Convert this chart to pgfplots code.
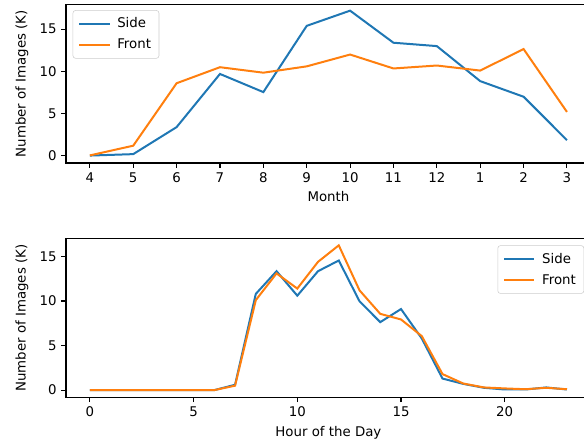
\documentclass[border=0pt]{standalone}
\usepackage{fontspec}
\setmainfont{DejaVu Sans}
\usepackage{pgfplots}
\pgfplotsset{compat=1.18}
\definecolor{mplblue}{HTML}{1F77B4}
\definecolor{mplorange}{HTML}{FF7F0E}
\pgfplotsset{
  mpl/.style={
    scale only axis, width=393.6pt, height=119pt,
    anchor=south west,
    axis line style={black, line width=0.8pt},
    tick style={black, line width=0.8pt},
    major tick length=3.5pt,
    tick align=outside,
    xtick pos=bottom, ytick pos=left,
    /pgf/number format/assume math mode=true,
    ticklabel style={font=\fontsize{10}{12}\selectfont},
    label style={font=\fontsize{10}{12}\selectfont},
    ylabel={Number of Images (K)},
    ytick={0,5,10,15},
    legend cell align=left,
    legend style={font=\fontsize{10}{12}\selectfont, draw=black!20, rounded corners=2pt, inner xsep=4pt, inner ysep=3.5pt, row sep=3pt, column sep=3pt},
    legend image code/.code={\draw[#1, line width=1.5pt] (0cm,0cm) -- (0.8cm,0cm);},
    every axis plot/.append style={line width=1.5pt, mark=none},
    ylabel style={yshift=1.5pt},
  }
}
\begin{document}
\begin{tikzpicture}
\path[use as bounding box] (0,0) rectangle (438pt,331.5pt);
\clip (0,0) rectangle (438pt,331.5pt);
\begin{axis}[mpl, at={(49.5pt,209.25pt)},
  xmin=-0.55, xmax=11.55, ymin=-0.85, ymax=17.95,
  xtick={0,...,11}, xticklabels={4,5,6,7,8,9,10,11,12,1,2,3},
  xlabel={Month},
  legend style={at={(0.0127,0.963)}, anchor=north west},
]
\addplot[mplblue] coordinates {(0,0.03) (1,0.2) (2,3.4) (3,9.7) (4,7.55) (5,15.4) (6,17.2) (7,13.4) (8,13.0) (9,8.85) (10,7.0) (11,1.86)};
\addplot[mplorange] coordinates {(0,0.05) (1,1.2) (2,8.6) (3,10.5) (4,9.85) (5,10.6) (6,12.0) (7,10.35) (8,10.7) (9,10.1) (10,12.65) (11,5.2)};
\legend{Side, Front}
\end{axis}
\begin{axis}[mpl, at={(49.5pt,33.5pt)},
  xmin=-1.15, xmax=24.15, ymin=-0.81, ymax=17.0,
  xtick={0,5,10,15,20},
  xlabel={Hour of the Day},
  legend style={at={(0.9873,0.958)}, anchor=north east},
]
\addplot[mplblue] coordinates {(0,0) (1,0) (2,0) (3,0) (4,0) (5,0) (6,0) (7,0.6) (8,10.8) (9,13.35) (10,10.6) (11,13.35) (12,14.55) (13,9.97) (14,7.63) (15,9.1) (16,5.8) (17,1.3) (18,0.7) (19,0.26) (20,0.07) (21,0.07) (22,0.3) (23,0.07)};
\addplot[mplorange] coordinates {(0,0) (1,0) (2,0) (3,0) (4,0) (5,0) (6,0) (7,0.5) (8,10.1) (9,13.1) (10,11.4) (11,14.4) (12,16.25) (13,11.2) (14,8.56) (15,7.93) (16,6.07) (17,1.8) (18,0.74) (19,0.3) (20,0.19) (21,0.1) (22,0.26) (23,0.1)};
\legend{Side, Front}
\end{axis}
\end{tikzpicture}
\end{document}
